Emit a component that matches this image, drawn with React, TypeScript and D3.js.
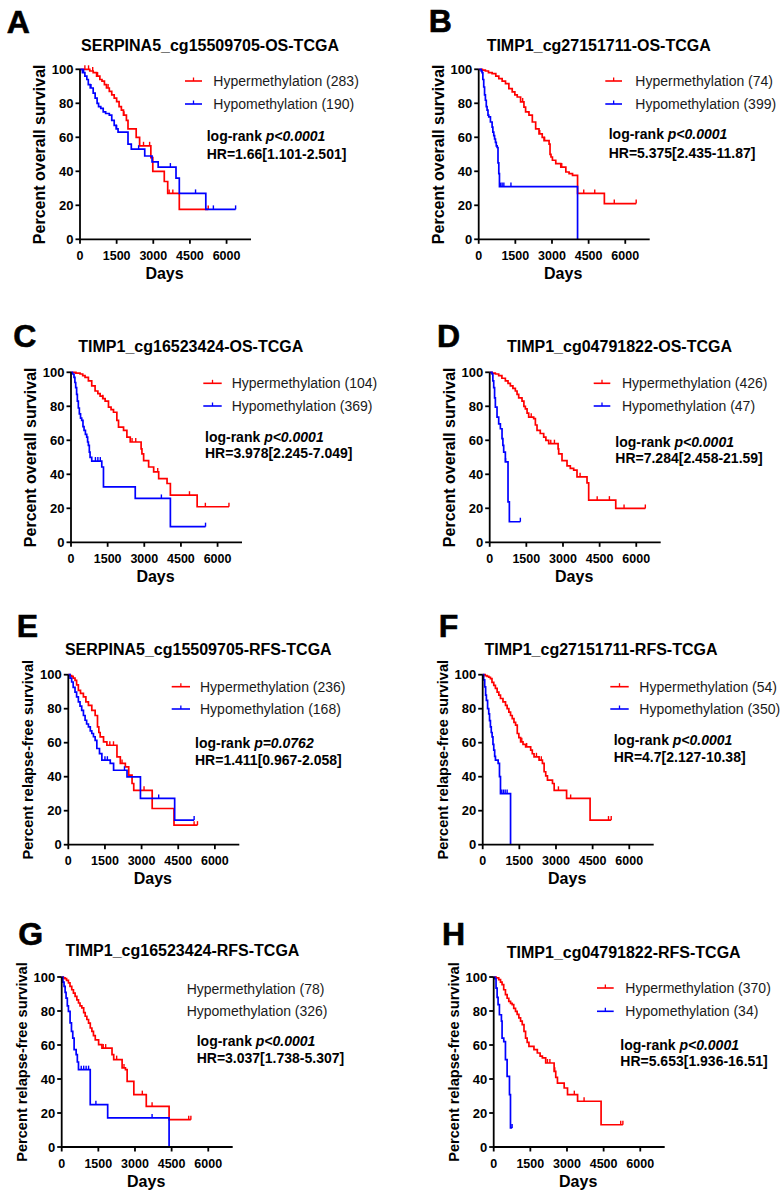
import React from "react";
import * as d3 from "d3";

// ---------- DATA ----------
const panelLetters = ["A", "B", "C", "D", "E", "F", "G", "H"];
const panelTitles = [
  "SERPINA5_cg15509705-OS-TCGA",
  "TIMP1_cg27151711-OS-TCGA",
  "TIMP1_cg16523424-OS-TCGA",
  "TIMP1_cg04791822-OS-TCGA",
  "SERPINA5_cg15509705-RFS-TCGA",
  "TIMP1_cg27151711-RFS-TCGA",
  "TIMP1_cg16523424-RFS-TCGA",
  "TIMP1_cg04791822-RFS-TCGA",
];
const yAxisLabels = [
  "Percent overall survival",
  "Percent overall survival",
  "Percent overall survival",
  "Percent overall survival",
  "Percent relapse-free survival",
  "Percent relapse-free survival",
  "Percent relapse-free survival",
  "Percent relapse-free survival",
];
const hyperLabels = [
  "Hypermethylation (283)",
  "Hypermethylation (74)",
  "Hypermethylation (104)",
  "Hypermethylation (426)",
  "Hypermethylation (236)",
  "Hypermethylation (54)",
  "Hypermethylation (78)",
  "Hypermethylation (370)",
];
const hypoLabels = [
  "Hypomethylation (190)",
  "Hypomethylation (399)",
  "Hypomethylation (369)",
  "Hypomethylation (47)",
  "Hypomethylation (168)",
  "Hypomethylation (350)",
  "Hypomethylation (326)",
  "Hypomethylation (34)",
];
const pValues = ["p<0.0001", "p<0.0001", "p<0.0001", "p<0.0001", "p=0.0762", "p<0.0001", "p<0.0001", "p<0.0001"];
const hrTexts = [
  "HR=1.66[1.101-2.501]",
  "HR=5.375[2.435-11.87]",
  "HR=3.978[2.245-7.049]",
  "HR=7.284[2.458-21.59]",
  "HR=1.411[0.967-2.058]",
  "HR=4.7[2.127-10.38]",
  "HR=3.037[1.738-5.307]",
  "HR=5.653[1.936-16.51]",
];
const xTicks = [0, 1500, 3000, 4500, 6000];
const yTicks = [0, 20, 40, 60, 80, 100];
const xDomain = [0, 7000];
const yDomain = [0, 100];

// Kaplan-Meier steps: [day, percent surviving]
const aHyper = [[0,100],[400,99],[540,98],[680,96],[813,94],[900,93],[1000,91],[1084,89],[1200,87],[1300,85],[1400,83],[1500,81],[1600,78],[1694,76],[1780,73],[1900,70],[1965,65],[2300,60],[2440,55],[2900,48],[2980,40],[3450,34],[3590,27],[4065,17.6],[5250,17.6]];
const aHypo = [[0,100],[100,98],[200,96],[280,94],[340,91],[420,89],[540,86],[620,83],[700,80],[760,78],[850,77],[950,75],[1050,74],[1200,73],[1300,70],[1400,67],[1480,65],[1558,63],[1965,56],[2100,53],[2650,49],[2950,45.5],[3200,42.5],[3930,36],[4065,27],[5150,17.6],[6370,17.6]];
const aHyperCens = [200, 350, 520, 720, 1150, 1800, 2600, 2850, 3650, 3800, 5250];
const aHypoCens = [150, 450, 1500, 2400, 3700, 4730, 5460, 6370];

const bHyper = [[0,100],[150,99.5],[274,99],[400,98],[549,97.5],[700,96],[823,94.5],[960,93],[1097,91.6],[1235,88.6],[1372,86.7],[1480,85],[1577,83.7],[1715,80.8],[1852,77.8],[1920,75],[2058,73],[2195,69],[2332,65],[2469,62],[2600,60],[2675,58],[2881,56],[2920,50],[2960,48.4],[3018,46.5],[3155,44.5],[3361,42.5],[3567,39.6],[3700,38.6],[3841,37.6],[4047,27],[5144,21],[6447,21]];
const bHypo = [[0,100],[100,99],[137,98],[170,94],[206,89.6],[240,85],[274,81.8],[310,78],[343,76],[380,73],[412,72],[480,69],[549,66],[580,63],[617,61],[650,59],[686,57],[720,55],[754,54],[790,45],[823,38.6],[850,31],[4047,0]];
const bHyperCens = [1800, 2500, 2700, 3400, 4300, 4750, 5550, 6447];
const bHypoCens = [900, 960, 1030, 1320];

const cHyper = [[0,100],[200,99.5],[370,99],[480,98],[575,97],[712,95],[849,92],[986,89],[1100,87.5],[1192,86],[1300,84.5],[1397,83],[1534,79.5],[1640,78],[1740,76.5],[1877,71.7],[1945,67.8],[2151,65.8],[2288,61.9],[2425,59],[2870,55],[2904,52],[2973,48],[3178,44.3],[3384,41.4],[3589,37.5],[3932,34.6],[4068,27.7],[5164,20.9],[6466,20.9]];
const cHypo = [[0,100],[60,99],[123,97],[160,94],[192,91],[230,87],[260,83],[300,79],[342,75.6],[390,73],[438,71.7],[490,68],[534,65.8],[590,63.5],[644,61.9],[680,59],[712,57],[750,53],[781,50],[849,47.8],[1260,44.3],[1329,32.6],[2630,25.8],[4068,9.2],[5507,9.2]];
const cHyperCens = [1300, 2500, 2650, 3550, 4850, 5500, 6466];
const cHypoCens = [1000, 1100, 1200, 3700, 5507];

const dHyper = [[0,100],[95,99.5],[230,99],[368,98],[500,96.5],[641,95],[750,93.5],[846,92],[950,90.5],[1050,89],[1120,87],[1187,85],[1323,83],[1400,80],[1460,78.5],[1530,76],[1596,73.6],[1801,72.7],[1870,69],[1937,65.8],[2070,64],[2210,61.9],[2300,60],[2415,58],[2800,55],[2824,52],[2960,48],[3165,45],[3300,43.5],[3438,42.4],[3574,38.5],[3984,35],[4052,24.8],[5160,19.9],[6371,19.9]];
const dHypo = [[0,100],[95,99],[130,95],[164,91],[200,85],[232,79.5],[300,73.6],[368,69.7],[437,66.8],[505,61],[540,57],[573,53],[641,47.3],[750,23.8],[805,12.1],[1255,12.1]];
const dHyperCens = [1700, 2500, 2650, 3700, 4400, 4900, 5500, 6371];
const dHypoCens = [650, 1255];

const eHyper = [[0,100],[70,99.5],[137,99],[200,98],[275,96.7],[340,94],[412,90.8],[500,89],[618,86.9],[720,84],[824,82],[962,79],[1099,76],[1195,69.3],[1250,66],[1305,63.4],[1442,60.5],[1580,58.5],[1992,51.7],[2129,47.8],[2335,45.8],[2473,40.9],[2610,36],[2679,32],[3434,21.3],[4327,11.5],[5288,11.5]];
const eHypo = [[0,100],[70,98],[137,95.7],[200,92.5],[275,89.8],[340,87],[412,84],[480,81.5],[549,79],[620,76],[687,73.2],[750,71],[824,69.3],[900,67],[962,65.4],[1030,63.5],[1099,61.4],[1168,56.6],[1277,53.6],[1374,49.7],[1717,47.8],[1854,43.8],[2404,39.9],[2953,27.2],[4354,14.5],[5151,14.5]];
const eHyperCens = [1700, 1850, 2200, 3100, 5150, 5288];
const eHypoCens = [1500, 1600, 2300, 3700, 5151];

const fHyper = [[0,100],[100,99.5],[179,99],[250,98.5],[316,97.7],[380,95.5],[453,93.7],[520,92],[591,89.8],[660,88],[728,86],[830,84],[934,82],[1000,80],[1071,78],[1140,76],[1209,74.2],[1280,72],[1346,70.3],[1415,65.4],[1480,63],[1552,60.5],[1650,59],[1758,57.5],[1964,55.6],[2030,53.5],[2102,51.7],[2308,49.7],[2445,47.8],[2514,42.9],[2580,40.5],[2651,38],[2857,36],[2926,32],[3434,27.2],[4396,14.5],[5261,14.5]];
const fHypo = [[0,100],[40,97],[82,92.8],[120,88],[151,84.9],[200,80],[247,77],[280,73],[316,69.3],[350,66],[385,63.4],[420,59],[453,55.6],[490,52],[522,49.7],[632,47.8],[687,40],[728,30.1],[1140,0]];
const fHyperCens = [1600, 1800, 2200, 2400, 3100, 3600, 5150, 5261];
const fHypoCens = [780, 850, 920, 1000];

const gHyper = [[0,100],[70,99.5],[137,99],[200,98],[275,96.5],[340,94.5],[412,92.5],[480,90.5],[549,88.6],[620,86.5],[687,84.7],[750,83],[824,81.8],[900,79],[962,76.9],[1030,75],[1099,72.9],[1170,70],[1236,68],[1300,65.5],[1374,63],[1511,60.2],[1648,58.2],[2060,54.3],[2129,51.4],[2473,46.5],[2610,45.5],[2679,38.6],[2953,30.8],[3462,23.9],[4396,16.1],[5288,16.1]];
const gHypo = [[0,100],[50,97],[96,94.5],[140,91],[179,87.6],[230,83],[275,79.8],[343,73],[400,68],[453,64],[508,57.3],[591,54.3],[640,50],[687,45.5],[1168,24.9],[1882,17.1],[4396,0]];
const gHyperCens = [1700, 1800, 2250, 2550, 3300, 3700, 5200, 5288];
const gHypoCens = [800, 900, 1000, 1100, 1400, 3700];

const hHyper = [[0,100],[100,99.5],[206,98.4],[280,97],[343,95.5],[410,92.5],[481,89.6],[550,87.5],[618,85.7],[690,84.5],[755,83.7],[820,81.5],[893,79.8],[960,78],[1030,75.9],[1100,74],[1168,72],[1240,68],[1305,64],[1370,61.5],[1442,59.2],[1648,57.3],[1786,55.3],[1900,53.5],[1992,52.4],[2129,49.4],[2473,44.5],[2540,41],[2610,37.6],[2885,34.7],[3022,30.8],[3434,26.9],[4396,13.1],[5288,13.1]];
const hHypo = [[0,100],[50,99],[96,93.5],[140,88],[179,83.7],[234,77.8],[316,74],[343,64],[412,62],[481,51.4],[549,41.6],[646,30.8],[687,11.2],[755,11.2]];
const hHyperCens = [2200, 2300, 2500, 3300, 3700, 5200, 5288];
const hHypoCens = [700, 755];

const hyperCurves = [aHyper, bHyper, cHyper, dHyper, eHyper, fHyper, gHyper, hHyper];
const hypoCurves = [aHypo, bHypo, cHypo, dHypo, eHypo, fHypo, gHypo, hHypo];
const hyperCensors = [aHyperCens, bHyperCens, cHyperCens, dHyperCens, eHyperCens, fHyperCens, gHyperCens, hHyperCens];
const hypoCensors = [aHypoCens, bHypoCens, cHypoCens, dHypoCens, eHypoCens, fHypoCens, gHypoCens, hHypoCens];

// ---------- LAYOUT ----------
const layout = [
  { x0: 80, yb: 239.3, lx: 6.7, ly: 33.3, tx: 210, ty: 50.5, gl: [185, 202], gx: 213.3, gy: [81, 104], ax: 206.7, ay: [140.5, 159] },
  { x0: 478.7, yb: 239.3, lx: 428.7, ly: 31.7, tx: 598.7, ty: 50.5, gl: [605.3, 622], gx: 635.3, gy: [81, 104], ax: 608.7, ay: [138.5, 158] },
  { x0: 71, yb: 542.3, lx: 13.3, ly: 346.7, tx: 190.8, ty: 351.7, gl: [203.3, 221.7], gx: 231.7, gy: [383.3, 406], ax: 205, ay: [441.7, 458.3] },
  { x0: 489.7, yb: 542.3, lx: 437, ly: 346.7, tx: 619.5, ty: 351.7, gl: [593.7, 610.3], gx: 622, gy: [383.3, 406], ax: 615.3, ay: [446.7, 463.3] },
  { x0: 68.3, yb: 844.7, lx: 16.7, ly: 636.7, tx: 198.3, ty: 655, gl: [171.7, 190], gx: 200, gy: [686.7, 709], ax: 195, ay: [748.3, 765] },
  { x0: 482.7, yb: 844.7, lx: 438.7, ly: 636.7, tx: 601, ty: 655, gl: [610.3, 628.7], gx: 639.3, gy: [686.7, 709], ax: 613.7, ay: [745, 761.7] },
  { x0: 61.7, yb: 1147, lx: 18.3, ly: 944.7, tx: 182.5, ty: 956.3, gl: null, gx: 186.7, gy: [989, 1011.3], ax: 196.7, ay: [1046.3, 1063] },
  { x0: 493.7, yb: 1147, lx: 442, ly: 944.7, tx: 623.7, ty: 958, gl: [597, 613.7], gx: 625.3, gy: [988, 1011.3], ax: 620.3, ay: [1049.7, 1066.3] },
];

const PW = 171;
const PH = 170;
const RED = "#ff0000";
const BLUE = "#0000ff";
const FONT = "'Liberation Sans', Arial, Helvetica, sans-serif";

function survAt(curve: number[][], day: number) {
  let v = curve[0][1];
  for (const p of curve) {
    if (p[0] <= day) v = p[1];
  }
  return v;
}

function Panel({ i }: { i: number }) {
  const L = layout[i];
  const x = d3.scaleLinear().domain(xDomain).range([L.x0, L.x0 + PW]);
  const y = d3.scaleLinear().domain(yDomain).range([L.yb, L.yb - PH]);
  const line = d3
    .line<number[]>()
    .x((d) => x(d[0]))
    .y((d) => y(d[1]))
    .curve(d3.curveStepAfter);
  const series = [
    { curve: hyperCurves[i], cens: hyperCensors[i], color: RED },
    { curve: hypoCurves[i], cens: hypoCensors[i], color: BLUE },
  ];
  const yLabelSize = i >= 4 ? 14.6 : 16;
  return (
    <g fontFamily={FONT}>
      <text x={L.lx} y={L.ly} fontSize={32} fontWeight="bold" stroke="#000" strokeWidth={0.6}>
        {panelLetters[i]}
      </text>
      <text x={L.tx} y={L.ty} fontSize={16} fontWeight="bold" textAnchor="middle">
        {panelTitles[i]}
      </text>
      {/* y label */}
      <text
        transform={`translate(${L.x0 - 35},${(y(0) + y(100)) / 2}) rotate(-90)`}
        fontSize={yLabelSize}
        fontWeight="bold"
        textAnchor="middle"
      >
        {yAxisLabels[i]}
      </text>
      {/* x label */}
      <text x={L.x0 + PW / 2 - 1} y={L.yb + 39.7} fontSize={16} fontWeight="bold" textAnchor="middle">
        Days
      </text>
      {/* curves */}
      {series.map((s, k) => (
        <g key={k}>
          <path d={line(s.curve) || ""} fill="none" stroke={s.color} strokeWidth={1.7} />
          {s.cens.map((c, j) => (
            <line
              key={j}
              x1={x(c)}
              x2={x(c)}
              y1={y(survAt(s.curve, c))}
              y2={y(survAt(s.curve, c)) - 4}
              stroke={s.color}
              strokeWidth={1.4}
            />
          ))}
        </g>
      ))}
      {/* axes */}
      <line x1={L.x0} x2={L.x0} y1={y(0)} y2={y(100)} stroke="#000" strokeWidth={1.8} />
      <line x1={L.x0} x2={L.x0 + PW} y1={y(0)} y2={y(0)} stroke="#000" strokeWidth={1.8} />
      {yTicks.map((t) => (
        <g key={"y" + t}>
          <line x1={L.x0 - 4.5} x2={L.x0} y1={y(t)} y2={y(t)} stroke="#000" strokeWidth={1.8} />
          <text x={L.x0 - 6.5} y={y(t) + 4.6} fontSize={13} fontWeight="bold" textAnchor="end">
            {t}
          </text>
        </g>
      ))}
      {xTicks.map((t) => (
        <g key={"x" + t}>
          <line x1={x(t)} x2={x(t)} y1={y(0)} y2={y(0) + 4.5} stroke="#000" strokeWidth={1.8} />
          <text x={x(t)} y={L.yb + 20.5} fontSize={12.5} fontWeight="bold" textAnchor="middle">
            {t}
          </text>
        </g>
      ))}
      {/* legend */}
      {[hyperLabels[i], hypoLabels[i]].map((lab, k) => (
        <g key={"lg" + k}>
          {L.gl && (
            <g>
              <line x1={L.gl[0]} x2={L.gl[1]} y1={L.gy[k]} y2={L.gy[k]} stroke={series[k].color} strokeWidth={1.6} />
              <line
                x1={(L.gl[0] + L.gl[1]) / 2}
                x2={(L.gl[0] + L.gl[1]) / 2}
                y1={L.gy[k]}
                y2={L.gy[k] - 3.5}
                stroke={series[k].color}
                strokeWidth={1.3}
              />
            </g>
          )}
          <text x={L.gx} y={L.gy[k] + 5} fontSize={14} fill="#1a1a1a">
            {lab}
          </text>
        </g>
      ))}
      {/* annotation */}
      <text x={L.ax} y={L.ay[0]} fontSize={14} fontWeight="bold">
        log-rank <tspan fontStyle="italic">{pValues[i]}</tspan>
      </text>
      <text x={L.ax} y={L.ay[1]} fontSize={14} fontWeight="bold">
        {hrTexts[i]}
      </text>
    </g>
  );
}

export default function App() {
  return (
    <svg
      width={784}
      height={1198}
      style={{ position: "absolute", left: 0, top: 0, background: "#fff" }}
    >
      <rect x={0} y={0} width={784} height={1198} fill="#fff" />
      {layout.map((_, i) => (
        <Panel key={i} i={i} />
      ))}
    </svg>
  );
}
